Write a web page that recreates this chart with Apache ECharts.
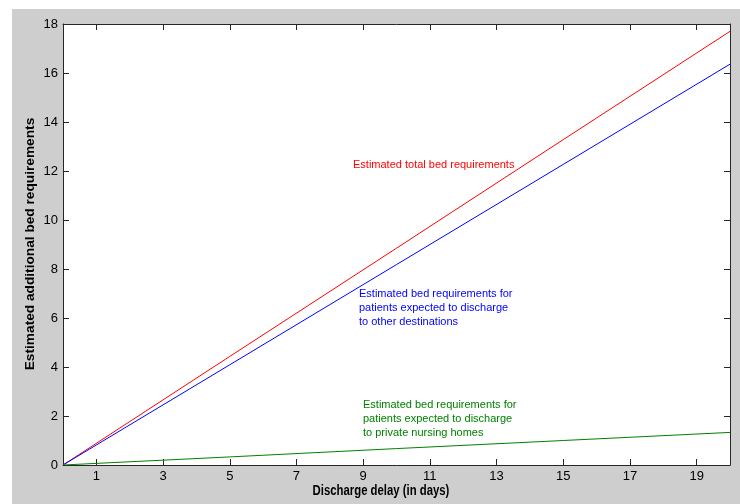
<!DOCTYPE html>
<html><head><meta charset="utf-8">
<script src="https://cdn.jsdelivr.net/npm/echarts@6/dist/echarts.min.js"></script>
<style>html,body{margin:0;padding:0;background:#fff}#c{width:740px;height:504px}</style>
</head><body><div id="c"></div>
<script>
var days = [0, 5, 10, 15, 20];
var totalBeds = [0, 4.43, 8.85, 13.28, 17.70];
var otherBeds = [0, 4.09, 8.18, 12.27, 16.36];
var nursingBeds = [0, 0.33, 0.67, 1.00, 1.33];
var xTicks = [1, 3, 5, 7, 9, 11, 13, 15, 17, 19];
var yTicks = [0, 2, 4, 6, 8, 10, 12, 14, 16, 18];
var xName = 'Discharge delay (in days)';
var yName = 'Estimated additional bed requirements';
var noteTotal = 'Estimated total bed requirements';
var noteOther = 'Estimated bed requirements for\npatients expected to discharge\nto other destinations';
var noteNursing = 'Estimated bed requirements for\npatients expected to discharge\nto private nursing homes';

function pairs(xs, ys){ return xs.map(function(x,i){return [x, ys[i]];}); }
var ff = '"Liberation Sans", Arial, sans-serif';
var frame = '#262626';
var chart = echarts.init(document.getElementById('c'));
function ax(extra){
  return Object.assign({
    type: 'value', min: 0,
    axisLine: {show: true, onZero: false, lineStyle: {color: frame, width: 1}},
    splitLine: {show: false}
  }, extra);
}
var tickStyle = {color: frame, width: 1};
chart.setOption({
  animation: false,
  backgroundColor: '#fff',
  graphic: [
    {type: 'rect', z: -10, shape: {x: 12, y: 9, width: 740, height: 504}, style: {fill: '#cecece'}},
    {type: 'text', left: 353, top: 159, style: {text: noteTotal, fill: '#ff0000', font: '11px ' + ff}},
    {type: 'text', left: 359, top: 287, style: {text: noteOther, fill: '#0000ff', font: '11px ' + ff, lineHeight: 14}},
    {type: 'text', left: 363, top: 398, style: {text: noteNursing, fill: '#008000', font: '11px ' + ff, lineHeight: 14}},
    {type: 'text', x: 381, y: 491, scaleX: 0.81, style: {text: xName, fill: '#000', font: 'bold 14px ' + ff, align: 'center', verticalAlign: 'middle'}},
    {type: 'text', x: 30, y: 244, rotation: Math.PI / 2, style: {text: yName, fill: '#000', font: 'bold 13.7px ' + ff, align: 'center', verticalAlign: 'middle'}}
  ],
  grid: {left: 63, top: 24, right: 10, bottom: 39, show: true, backgroundColor: '#fff', borderWidth: 0},
  xAxis: [
    ax({max: 20, position: 'bottom',
      axisTick: {show: true, inside: true, length: 6, customValues: xTicks, lineStyle: tickStyle},
      axisLabel: {show: true, customValues: xTicks, fontFamily: ff, fontSize: 13, color: '#000', margin: 5}}),
    ax({max: 20, position: 'top',
      axisTick: {show: true, inside: true, length: 6, customValues: xTicks, lineStyle: tickStyle},
      axisLabel: {show: false}})
  ],
  yAxis: [
    ax({max: 18, interval: 2, position: 'left',
      axisTick: {show: true, inside: true, length: 6, lineStyle: tickStyle},
      axisLabel: {show: true, fontFamily: ff, fontSize: 13, color: '#000', margin: 5}}),
    ax({max: 18, interval: 2, position: 'right',
      axisTick: {show: true, inside: true, length: 6, lineStyle: tickStyle},
      axisLabel: {show: false}})
  ],
  series: [
    {type: 'line', data: pairs(days, totalBeds), symbol: 'none', lineStyle: {color: '#ff0000', width: 1}},
    {type: 'line', data: pairs(days, otherBeds), symbol: 'none', lineStyle: {color: '#0000ff', width: 1}},
    {type: 'line', data: pairs(days, nursingBeds), symbol: 'none', lineStyle: {color: '#008000', width: 1}}
  ]
});
</script></body></html>
